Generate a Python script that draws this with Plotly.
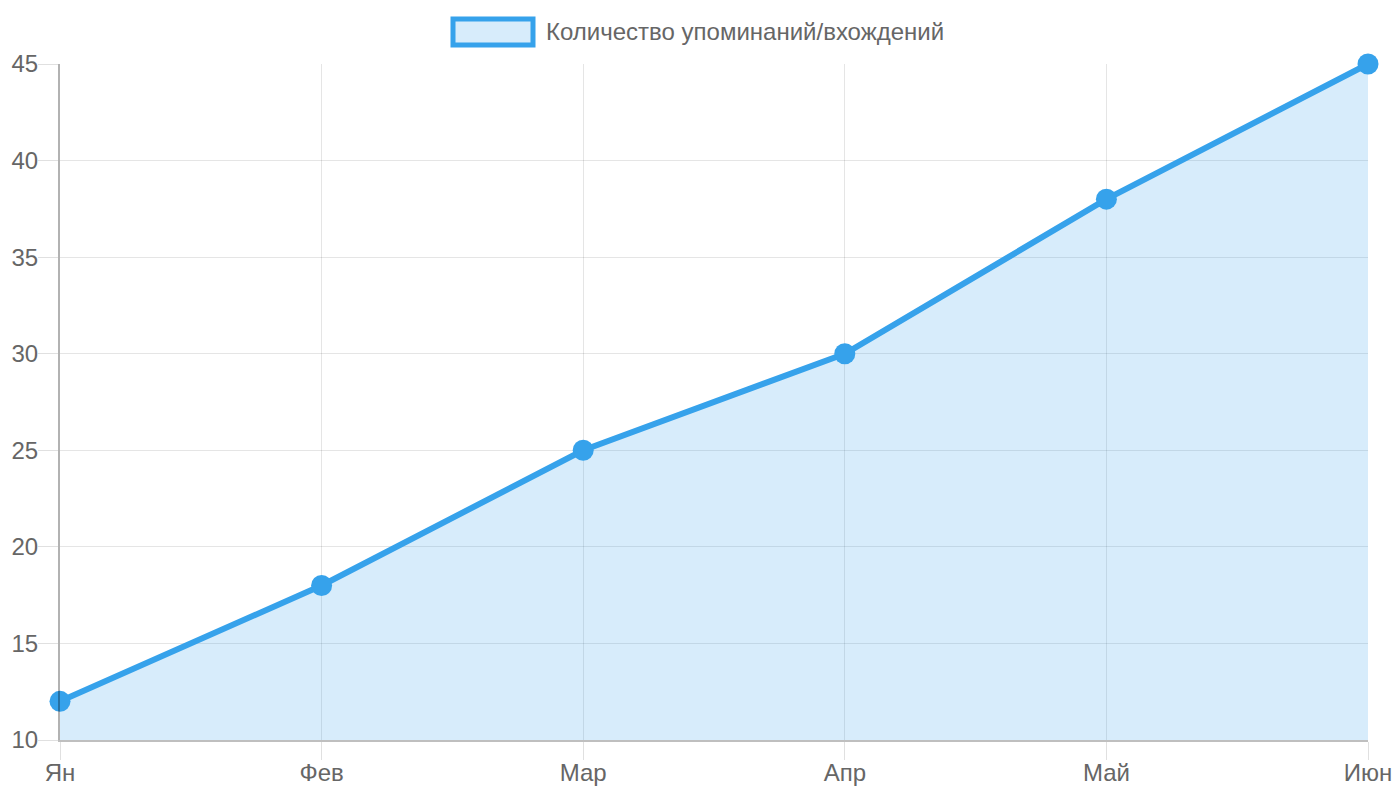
import plotly.graph_objects as go

# dados do gráfico
meses = ["Ян", "Фев", "Мар", "Апр", "Май", "Июн"]
valores = [12, 18, 25, 30, 38, 45]
rotulo = "Количество упоминаний/вхождений"

azul = "#36A2EB"
cinza = "#666666"

fig = go.Figure()
fig.add_trace(go.Scatter(
    x=meses, y=valores, name=rotulo,
    mode="lines+markers",
    fill="tozeroy", fillcolor="rgba(54,162,235,0.2)",
    line=dict(color=azul, width=6),
    marker=dict(color=azul, size=21),
    cliponaxis=False,
    showlegend=False,
))

# legenda desenhada a mao (caixa + texto), igual ao Chart.js
fig.add_shape(type="rect", xref="paper", yref="paper",
              x0=(453 - 60) / 1308, x1=(533 - 60) / 1308,
              y0=(740 - 19) / 676, y1=(740 - 45) / 676,
              line=dict(color=azul, width=5), fillcolor="rgba(54,162,235,0.2)")
fig.add_annotation(text=rotulo, xref="paper", yref="paper",
                   x=(544 - 60) / 1308, y=(740 - 32) / 676,
                   xanchor="left", yanchor="middle", showarrow=False,
                   font=dict(size=24, color=cinza))

# a pagina tem 8px de margem no body, entao compensa aqui
fig.update_layout(
    width=1400, height=800,
    autosize=False,
    margin=dict(l=52, r=40, t=56, b=68, autoexpand=False),
    plot_bgcolor="white", paper_bgcolor="white",
    font=dict(family="Liberation Sans, Arial, sans-serif", size=24, color=cinza),
    xaxis=dict(
        range=[0, 5],
        showgrid=True, gridcolor="rgba(0,0,0,0.1)", gridwidth=1,
        ticks="outside", ticklen=18, tickcolor="rgba(0,0,0,0.12)", tickwidth=1,
        ticklabelstandoff=-8,
        showline=True, linecolor="rgba(0,0,0,0.25)", linewidth=2,
        zeroline=False, automargin=False,
        tickfont=dict(size=24, color=cinza),
    ),
    yaxis=dict(
        range=[10, 45], dtick=5,
        showgrid=True, gridcolor="rgba(0,0,0,0.1)", gridwidth=1,
        ticks="outside", ticklen=20, tickcolor="rgba(0,0,0,0.12)", tickwidth=1,
        ticklabelstandoff=-5,
        showline=True, linecolor="rgba(0,0,0,0.3)", linewidth=2,
        zeroline=False, automargin=False,
        tickfont=dict(size=24, color=cinza),
    ),
)

fig.write_html("out.html")
